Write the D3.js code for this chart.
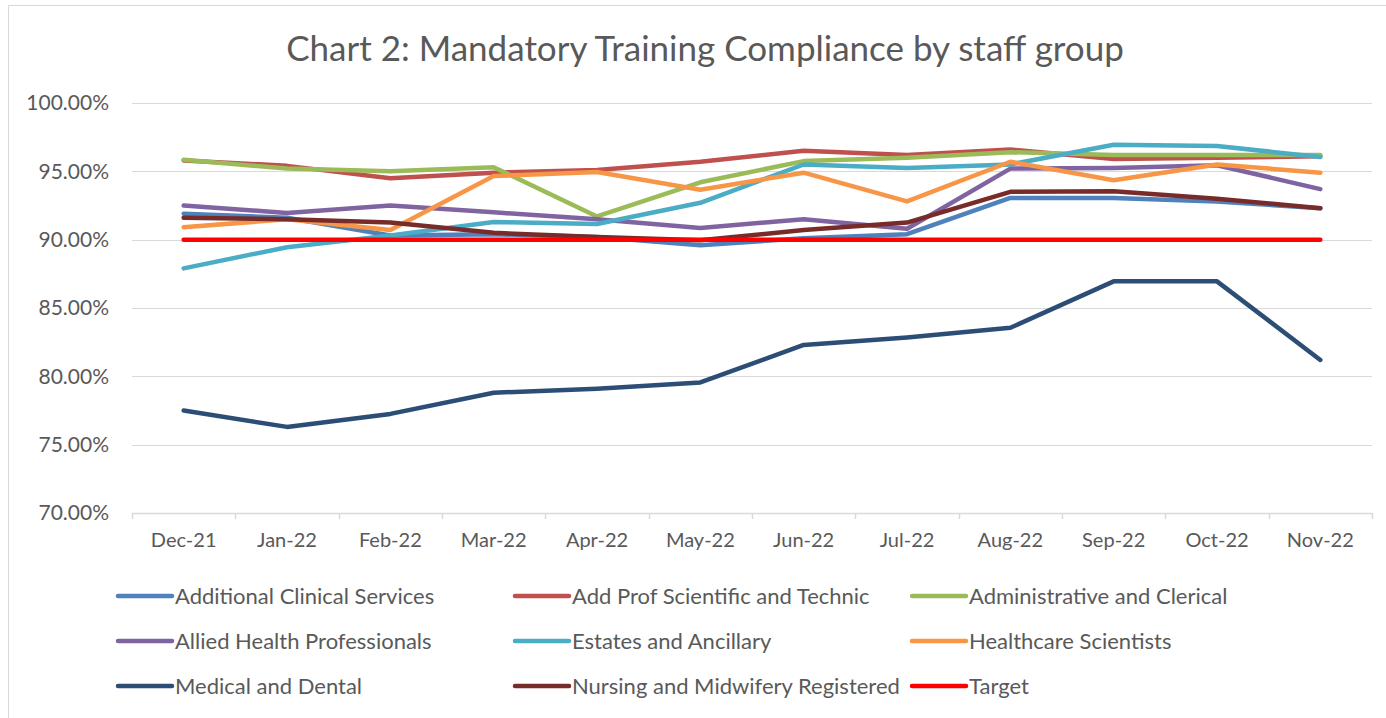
<!DOCTYPE html>
<html>
<head>
<meta charset="utf-8">
<script src="https://cdn.jsdelivr.net/npm/d3@7"></script>
<style>
  body { margin: 0; background: #fff; }
  svg { display: block; font-family: Lato, "Open Sans", sans-serif; }
</style>
</head>
<body>
<script>
// months along the x axis
var months = ["Dec-21", "Jan-22", "Feb-22", "Mar-22", "Apr-22", "May-22",
              "Jun-22", "Jul-22", "Aug-22", "Sep-22", "Oct-22", "Nov-22"];

// compliance % per staff group
var additionalClinical = [91.9, 91.6, 90.3, 90.4, 90.2, 89.6, 90.1, 90.4, 93.05, 93.05, 92.8, 92.3];
var addProfScientific  = [95.8, 95.4, 94.5, 94.9, 95.1, 95.7, 96.5, 96.2, 96.6, 95.9, 96.0, 96.1];
var adminClerical      = [95.85, 95.2, 95.0, 95.3, 91.7, 94.2, 95.75, 96.0, 96.4, 96.2, 96.2, 96.2];
var alliedHealth       = [92.5, 91.95, 92.5, 92.0, 91.5, 90.85, 91.5, 90.8, 95.2, 95.25, 95.45, 93.7];
var estatesAncillary   = [87.9, 89.45, 90.3, 91.3, 91.15, 92.7, 95.5, 95.25, 95.5, 96.95, 96.85, 96.05];
var healthcareSci      = [90.9, 91.5, 90.7, 94.65, 94.95, 93.65, 94.9, 92.8, 95.7, 94.35, 95.5, 94.9];
var medicalDental      = [77.5, 76.3, 77.25, 78.8, 79.1, 79.55, 82.3, 82.85, 83.55, 86.95, 86.95, 81.2];
var nursingMidwifery   = [91.6, 91.5, 91.25, 90.5, 90.2, 89.95, 90.7, 91.25, 93.5, 93.55, 93.0, 92.3];
var target             = [90, 90, 90, 90, 90, 90, 90, 90, 90, 90, 90, 90];

var yTicks = [70, 75, 80, 85, 90, 95, 100];

var seriesNames = ["Additional Clinical Services", "Add Prof Scientific and Technic",
  "Administrative and Clerical", "Allied Health Professionals", "Estates and Ancillary",
  "Healthcare Scientists", "Medical and Dental", "Nursing and Midwifery Registered", "Target"];
var seriesValues = [additionalClinical, addProfScientific, adminClerical, alliedHealth,
  estatesAncillary, healthcareSci, medicalDental, nursingMidwifery, target];
var colors = ["#4F81BD", "#C0504D", "#9BBB59", "#8064A2", "#4BACC6",
              "#F79646", "#2C4D75", "#772C2A", "#FF0000"];

var W = 1386, H = 718;
var margin = {top: 103, right: 14, bottom: 205, left: 132},
    width = W - margin.left - margin.right,
    height = H - margin.top - margin.bottom;

var svg = d3.select("body").append("svg")
    .attr("width", W)
    .attr("height", H);

// chart frame
svg.append("rect")
    .attr("x", 8.5).attr("y", 5.5)
    .attr("width", W).attr("height", H)
    .attr("fill", "none")
    .attr("stroke", "#D9D9D9");

svg.append("text")
    .attr("x", 705).attr("y", 61)
    .attr("text-anchor", "middle")
    .attr("fill", "#595959")
    .style("font-size", "35px")
    .text("Chart 2: Mandatory Training Compliance by staff group");

var g = svg.append("g")
    .attr("transform", "translate(" + margin.left + "," + margin.top + ")");

var x = d3.scaleBand().domain(months).range([0, width]);
var y = d3.scaleLinear().domain([70, 100]).range([height, 0]);

// gridlines
g.selectAll(".grid")
  .data(yTicks.slice(1))
  .enter().append("line")
    .attr("x1", 0).attr("x2", width)
    .attr("y1", function(d) { return Math.round(y(d)) + 0.5; })
    .attr("y2", function(d) { return Math.round(y(d)) + 0.5; })
    .attr("stroke", "#D9D9D9");

// y axis labels
var yAxis = g.append("g")
    .call(d3.axisLeft(y).tickValues(yTicks).tickSize(0).tickPadding(23)
      .tickFormat(function(d) { return d.toFixed(2) + "%"; }));
yAxis.select(".domain").remove();
yAxis.selectAll("text")
    .attr("fill", "#595959")
    .style("font-size", "21px")
    .style("font-family", "Lato, sans-serif");

// x axis with ticks between categories
var xAxis = g.append("g")
    .attr("transform", "translate(0," + height + ")")
    .call(d3.axisBottom(x).tickSize(0).tickPadding(20));
xAxis.select(".domain").attr("stroke", "#D9D9D9").attr("stroke-width", 1.5);
xAxis.selectAll("text")
    .attr("fill", "#595959")
    .style("font-size", "20px")
    .style("font-family", "Lato, sans-serif");
g.selectAll(".xtick")
  .data(d3.range(months.length + 1))
  .enter().append("line")
    .attr("x1", function(i) { return Math.round(i * x.step()) + 0.5; })
    .attr("x2", function(i) { return Math.round(i * x.step()) + 0.5; })
    .attr("y1", height).attr("y2", height + 6)
    .attr("stroke", "#D9D9D9").attr("stroke-width", 1.5);

var line = d3.line()
    .x(function(d, i) { return x(months[i]) + x.bandwidth() / 2; })
    .y(function(d) { return y(d); });

seriesValues.forEach(function(vals, k) {
  g.append("path")
      .datum(vals)
      .attr("fill", "none")
      .attr("stroke", colors[k])
      .attr("stroke-width", 4.5)
      .attr("stroke-linejoin", "round")
      .attr("stroke-linecap", "round")
      .attr("d", line);
});

// legend, 3 columns
var legend = svg.append("g");
seriesNames.forEach(function(name, k) {
  var col = k % 3, row = Math.floor(k / 3);
  var lx = 118 + col * 397, ly = 596 + row * 45;
  legend.append("line")
      .attr("x1", lx).attr("x2", lx + 54)
      .attr("y1", ly).attr("y2", ly)
      .attr("stroke", colors[k])
      .attr("stroke-width", 4.5)
      .attr("stroke-linecap", "round");
  legend.append("text")
      .attr("x", lx + 57).attr("y", ly + 8)
      .attr("fill", "#595959")
      .style("font-size", "22px")
      .text(name);
});
</script>
</body>
</html>
